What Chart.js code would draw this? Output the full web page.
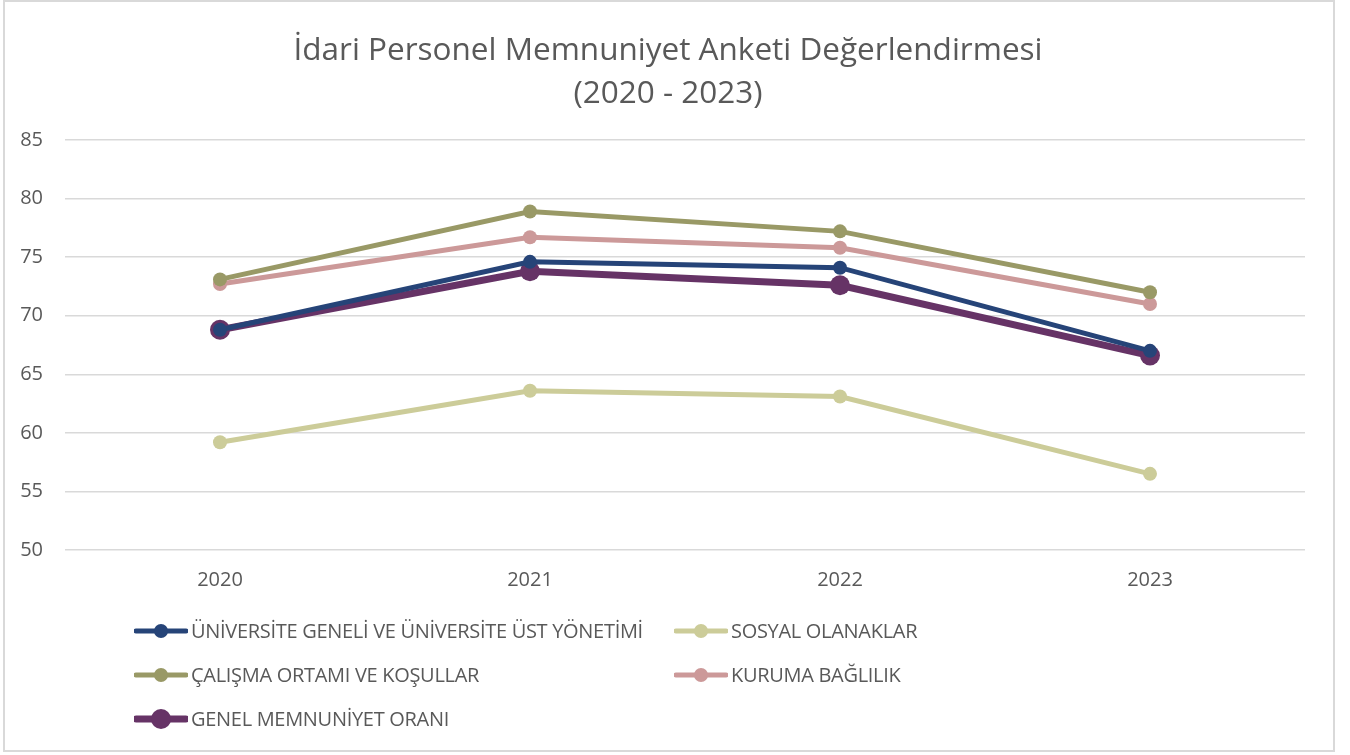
<!DOCTYPE html>
<html lang="tr">
<head>
<meta charset="utf-8">
<script src="https://cdn.jsdelivr.net/npm/chart.js@4"></script>
<style>
    html, body { margin: 0; padding: 0; background: #fff; }
    #wrap { position: relative; width: 1350px; height: 755px; }
    #chart { position: absolute; left: 0; top: 0; }
    #frame { position: absolute; left: 3px; top: 0; width: 1328px; height: 748px; border: 2px solid #d9d9d9; pointer-events: none; }
    #title { position: absolute; left: 0; top: 27px; width: 1336px; text-align: center;
        font-family: "Open Sans", sans-serif; font-size: 31.5px; line-height: 42.5px; color: #595959; }
    #legend { position: absolute; left: 134px; top: 617px; display: grid; grid-template-columns: 540px auto; row-gap: 17px;
        font-family: "Open Sans", sans-serif; font-size: 20px; letter-spacing: -0.3px; color: #595959; }
    .item { display: flex; align-items: center; height: 27px; white-space: nowrap; }
    .item svg { margin-right: 3px; }
</style>
</head>
<body>
<div id="wrap">
    <canvas id="chart" width="1350" height="755"></canvas>
    <div id="title">İdari Personel Memnuniyet Anketi Değerlendirmesi<br>(2020 - 2023)</div>
    <div id="legend"></div>
    <div id="frame"></div>
</div>
<script>
// İdari Personel Memnuniyet Anketi, yıllara göre ortalama puanlar
const YEARS = ['2020', '2021', '2022', '2023'];
const SERIES_NAMES = [
    'ÜNİVERSİTE GENELİ VE ÜNİVERSİTE ÜST YÖNETİMİ',
    'SOSYAL OLANAKLAR',
    'ÇALIŞMA ORTAMI VE KOŞULLAR',
    'KURUMA BAĞLILIK',
    'GENEL MEMNUNİYET ORANI',
];
const UNIVERSITE = [68.8, 74.6, 74.1, 67.0];
const SOSYAL = [59.2, 63.6, 63.1, 56.5];
const CALISMA = [73.1, 78.9, 77.2, 72.0];
const KURUMA = [72.7, 76.7, 75.8, 71.0];
const GENEL = [68.8, 73.8, 72.6, 66.6];
const Y_TICKS = [50, 55, 60, 65, 70, 75, 80, 85];

const COLORS = ['#264478', '#cccc99', '#999966', '#cc9999', '#663366'];
const TEXT = '#595959';
const GRID = '#d9d9d9';

function series(i, data, width, radius) {
    return {
        label: SERIES_NAMES[i],
        data,
        borderColor: COLORS[i],
        backgroundColor: COLORS[i],
        borderWidth: width,
        pointRadius: radius,
        pointBorderWidth: 0,
        pointHoverRadius: radius,
        tension: 0,
    };
}

// draw order: the overall line sits on top
const datasets = [
    series(0, UNIVERSITE, 5, 7),
    series(1, SOSYAL, 5, 7),
    series(2, CALISMA, 5, 7),
    series(3, KURUMA, 5, 7),
    series(4, GENEL, 7, 10),
];

const chart = new Chart(document.getElementById('chart'), {
    type: 'line',
    data: { labels: YEARS, datasets },
    options: {
        responsive: false,
        animation: false,
        events: [],
        // title and legend are html; leave room for them
        layout: { padding: { left: 10, right: 45, top: 140, bottom: 0 } },
        plugins: {
            legend: { display: false },
            tooltip: { enabled: false },
        },
        scales: {
            x: {
                offset: true,
                grid: { display: false, drawTicks: false },
                border: { display: false },
                ticks: { color: TEXT, padding: 18, font: { family: '"Open Sans", sans-serif', size: 20 } },
                afterFit: (s) => { s.height = 205; },
            },
            y: {
                min: 50,
                max: 85,
                afterBuildTicks: (s) => { s.ticks = Y_TICKS.map((v) => ({ value: v })); },
                grid: { color: GRID, lineWidth: 1.5, drawTicks: false },
                border: { display: false },
                ticks: { color: TEXT, padding: 22, font: { family: '"Open Sans", sans-serif', size: 20 } },
                afterFit: (s) => { s.width = 55; },
            },
        },
    },
});

// legend in two columns, built from the chart's datasets
const legend = document.getElementById('legend');
chart.data.datasets.forEach((ds) => {
    const thick = ds.borderWidth;
    const r = ds.pointRadius;
    const item = document.createElement('div');
    item.className = 'item';
    item.innerHTML =
        `<svg width="54" height="22" viewBox="0 0 54 22">` +
        `<line x1="2" y1="11" x2="52" y2="11" stroke="${ds.borderColor}" stroke-width="${thick}" stroke-linecap="round"/>` +
        `<circle cx="27" cy="11" r="${r}" fill="${ds.borderColor}"/></svg>` +
        `<span>${ds.label}</span>`;
    legend.appendChild(item);
});
</script>
</body>
</html>
